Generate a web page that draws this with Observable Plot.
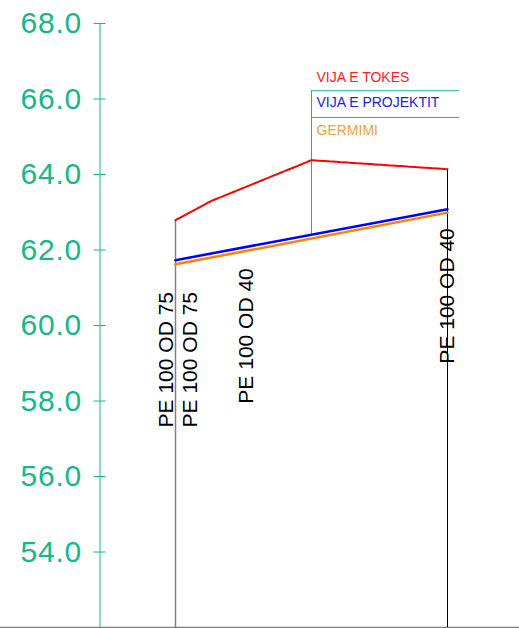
<!DOCTYPE html>
<html><head><meta charset="utf-8">
<script src="https://cdn.jsdelivr.net/npm/d3@7"></script>
<script src="https://cdn.jsdelivr.net/npm/@observablehq/plot@0.6"></script>
<style>body{margin:0;background:#fff;overflow:hidden}</style>
</head><body><div id="chart"></div>
<script>
// Elevation axis ticks
const yTicks = [54, 56, 58, 60, 62, 64, 66, 68];
// Ground line (VIJA E TOKES)
const groundStations = [0, 5.15, 20, 40];
const groundElev = [62.79, 63.29, 64.38, 64.14];
// Pipe line (VIJA E PROJEKTIT) and trench (GERMIMI)
const pipeStations = [0, 40];
const pipeElev = [61.73, 63.08];
const trenchElev = [61.62, 62.99];
// Section labels
const sectionLabels = ["PE 100 OD 75", "PE 100 OD 75", "PE 100 OD 40", "PE 100 OD 40"];
const labelStations = [-1.4, 2.13, 10.37, 39.93];
const labelElev = [57.3, 57.3, 57.93, 58.99];
// Legend / callout
const legendNames = ["VIJA E TOKES", "VIJA E PROJEKTIT", "GERMIMI"];
const legendElev = [66.57, 65.91, 65.17];
const calloutStation = 20;
const calloutEnd = 41.8;
const calloutElev = [66.22, 65.51];
const axisStation = -11.1;
const xDomain = [-25.735, 50.588];
const yDomain = [52, 68];

const teal = "#14b98a";
const font = "'Liberation Sans', Arial, sans-serif";

const ground = groundStations.map((s, i) => ({s, e: groundElev[i]}));
const pipe = pipeStations.map((s, i) => ({s, e: pipeElev[i]}));
const trench = pipeStations.map((s, i) => ({s, e: trenchElev[i]}));
const labels = sectionLabels.map((t, i) => ({t, s: labelStations[i], e: labelElev[i]}));
const legend = legendNames.map((t, i) => ({t, e: legendElev[i]}));
const legendColors = ["#ff2020", "#2020e8", "#f5a03a"];
const pipeAtCallout = d3.scaleLinear().domain(pipeStations).range(pipeElev)(calloutStation);

const chart = Plot.plot({
  width: 519, height: 628,
  marginTop: 23, marginBottom: 1, marginLeft: 0, marginRight: 0,
  style: {fontFamily: font, background: "#fff"},
  x: {domain: xDomain, axis: null},
  y: {domain: yDomain, axis: null},
  marks: [
    // bottom line
    Plot.ruleY([yDomain[0]], {stroke: "#808080", strokeWidth: 1.5}),
    // y axis
    Plot.ruleX([axisStation], {y1: yDomain[0], y2: yTicks[yTicks.length - 1], stroke: teal, strokeWidth: 1}),
    Plot.ruleY(yTicks, {y: d => d, x1: () => axisStation, x2: () => axisStation, insetLeft: -6, insetRight: -6, stroke: teal, strokeWidth: 1}),
    Plot.text(yTicks, {x: () => axisStation, y: d => d, text: d => d.toFixed(1), textAnchor: "end", dx: -18, fontSize: 30, fill: teal, fontFamily: font}),
    // station verticals
    Plot.ruleX([ground[0]], {x: "s", y1: yDomain[0], y2: "e", stroke: "#808080", strokeWidth: 1.5}),
    Plot.ruleX([ground[ground.length - 1]], {x: "s", y1: yDomain[0], y2: "e", stroke: "#000", strokeWidth: 1}),
    // callout
    Plot.ruleX([calloutStation], {x: d => d, y1: () => pipeAtCallout, y2: () => calloutElev[0], stroke: teal, strokeWidth: 1}),
    Plot.ruleY(calloutElev, {y: d => d, x1: () => calloutStation, x2: () => calloutEnd, stroke: teal, strokeWidth: 1}),
    // lines
    Plot.line(ground, {x: "s", y: "e", stroke: "#ff0000", strokeWidth: 2, strokeDasharray: "7,1.5"}),
    Plot.line(trench, {x: "s", y: "e", stroke: "#ff8000", strokeWidth: 2.5}),
    Plot.line(pipe, {x: "s", y: "e", stroke: "#0000ff", strokeWidth: 2.5}),
    // section labels
    Plot.text(labels, {x: "s", y: "e", text: "t", rotate: -90, textAnchor: "start", lineAnchor: "middle", fontSize: 21, fill: "#000", fontFamily: font}),
    // legend
    Plot.text(legend, {x: () => calloutStation, y: "e", text: "t", textAnchor: "start", dx: 5, fontSize: 14, fill: (d, i) => legendColors[i], fontFamily: font})
  ]
});
d3.select(chart).selectAll("text").filter(function() {
  return this.closest("g") && this.closest("g").getAttribute("fill") === teal;
}).style("letter-spacing", "0.8px");
document.getElementById("chart").append(chart);
</script>
</body></html>
